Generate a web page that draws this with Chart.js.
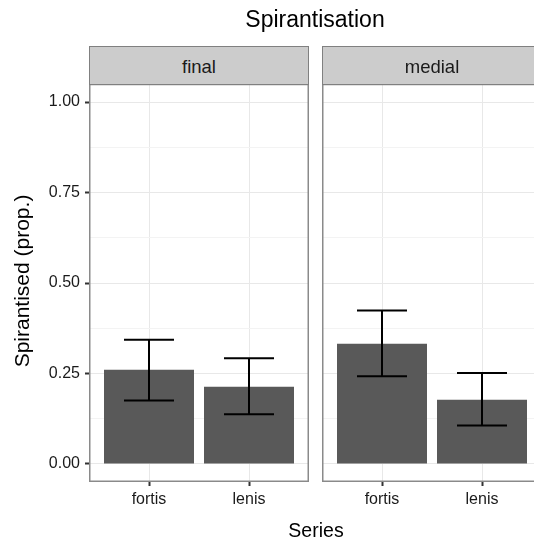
<!DOCTYPE html>
<html>
<head>
<meta charset="utf-8">
<title>Spirantisation</title>
<script src="https://cdn.jsdelivr.net/npm/chart.js@4.4.0/dist/chart.umd.min.js"></script>
<style>
  html, body { margin: 0; padding: 0; background: #fff; width: 534px; height: 544px; overflow: hidden; }
  #wrap { position: relative; width: 560px; height: 544px; font-family: 'Liberation Sans', Arial, Helvetica, sans-serif; color: #000; }
  #wrap canvas { position: absolute; left: 0; top: 0; }
  .strip { position: absolute; top: 46px; width: 220px; height: 39px; box-sizing: border-box;
           background: #CCCCCC; border: 1px solid #808080; text-align: center;
           font-size: 18.5px; line-height: 39px; color: #1a1a1a; overflow: hidden; z-index: 3; }
  .lbl { position: absolute; text-align: center; white-space: nowrap; z-index: 3; }
  #title { left: 115px; width: 400px; top: 8px; font-size: 23px; line-height: 23px; }
  #xlab { left: 116px; width: 400px; top: 521px; font-size: 19.5px; line-height: 19.5px; }
  #ylab { left: -128px; width: 300px; top: 270px; height: 22px; font-size: 21px; line-height: 22px;
          transform: rotate(-90deg); transform-origin: 150px 11px; }
</style>
</head>
<body>
<div id="wrap">
  <canvas id="finalChart" width="560" height="544"></canvas>
  <canvas id="medialChart" width="560" height="544"></canvas>
  <div class="strip" style="left:89px">final</div>
  <div class="strip" style="left:322px">medial</div>
  <div id="title" class="lbl">Spirantisation</div>
  <div id="xlab" class="lbl">Series</div>
  <div id="ylab" class="lbl">Spirantised (prop.)</div>
</div>
<script>
// Categories on the x axis of each facet
const categories = ['fortis', 'lenis'];

// Proportion spirantised, with lower / upper error bounds, per position
const finalProp  = [0.260, 0.213];
const finalLow   = [0.175, 0.137];
const finalHigh  = [0.343, 0.292];

const medialProp = [0.332, 0.177];
const medialLow  = [0.242, 0.106];
const medialHigh = [0.424, 0.251];

// y axis ticks: labelled major ticks and unlabelled minor grid lines
const yMajorTicks = [0, 0.25, 0.5, 0.75, 1.0];
const yMinorTicks = [0.125, 0.375, 0.625, 0.875];

const CANVAS_W = 560;
const PANEL_W = 220;
const FONT = "'Liberation Sans', Arial, Helvetica, sans-serif";

const isMajor = v => yMajorTicks.includes(v);

// Draws the error bars (whisker + caps) through the chart's own scales
function errorBarPlugin(low, high) {
  return {
    id: 'errorBars',
    afterDatasetsDraw(chart) {
      const { ctx, scales: { x, y } } = chart;
      ctx.save();
      ctx.strokeStyle = '#000';
      ctx.lineWidth = 2;
      low.forEach((lo, i) => {
        const xc = x.getPixelForValue(i + 1);
        const half = x.getPixelForValue(i + 1.25) - xc;
        const yLo = y.getPixelForValue(lo);
        const yHi = y.getPixelForValue(high[i]);
        ctx.beginPath();
        ctx.moveTo(xc, yHi); ctx.lineTo(xc, yLo);
        ctx.moveTo(xc - half, yHi); ctx.lineTo(xc + half, yHi);
        ctx.moveTo(xc - half, yLo); ctx.lineTo(xc + half, yLo);
        ctx.stroke();
      });
      ctx.restore();
    }
  };
}

// Grey frame around each facet panel
const panelBorder = {
  id: 'panelBorder',
  afterDraw(chart) {
    const { ctx, chartArea: a } = chart;
    ctx.save();
    ctx.strokeStyle = '#8A8A8A';
    ctx.lineWidth = 1.5;
    ctx.strokeRect(Math.round(a.left) + 0.75, Math.round(a.top) + 0.5,
                   Math.round(a.width) - 1.5, Math.round(a.height) - 1.25);
    ctx.restore();
  }
};

function facet(canvasId, values, low, high, panelLeft, showY) {
  return new Chart(document.getElementById(canvasId), {
    type: 'bar',
    data: {
      datasets: [{
        data: categories.map((c, i) => ({ x: i + 1, y: values[i] })),
        backgroundColor: '#595959',
        borderWidth: 0,
        categoryPercentage: 0.9,
        barPercentage: 1.0
      }]
    },
    options: {
      responsive: false,
      animation: false,
      events: [],
      layout: { padding: { left: showY ? 0 : panelLeft, right: CANVAS_W - panelLeft - PANEL_W, top: 84, bottom: 0 } },
      plugins: { legend: { display: false }, tooltip: { enabled: false }, title: { display: false } },
      scales: {
        x: {
          type: 'linear',
          min: 0.4,
          max: 2.6,
          offset: false,
          afterBuildTicks: s => { s.ticks = categories.map((c, i) => ({ value: i + 1 })); },
          afterFit: s => { s.height = 62; },
          ticks: {
            callback: v => categories[Math.round(v) - 1],
            color: '#1a1a1a',
            font: { family: FONT, size: 16 },
            padding: 4,
            maxRotation: 0,
            autoSkip: false
          },
          grid: { offset: false, color: '#E8E8E8', lineWidth: 1, tickColor: '#333', tickLength: 4, tickWidth: 2 },
          border: { display: false }
        },
        y: {
          type: 'linear',
          min: -0.05,
          max: 1.05,
          afterBuildTicks: s => {
            s.ticks = [...yMajorTicks, ...yMinorTicks].sort((a, b) => a - b).map(v => ({ value: v }));
          },
          afterFit: s => { s.width = showY ? panelLeft : 0; },
          ticks: {
            display: showY,
            callback: v => isMajor(v) ? v.toFixed(2) : '',
            color: '#1a1a1a',
            font: { family: FONT, size: 16 },
            padding: 5,
            autoSkip: false
          },
          grid: {
            color: c => (c.tick && isMajor(c.tick.value)) ? '#E8E8E8' : '#F3F3F3',
            lineWidth: 1,
            drawTicks: showY,
            tickLength: 4,
            tickWidth: 2,
            tickColor: c => (c.tick && isMajor(c.tick.value)) ? '#333' : 'rgba(0,0,0,0)'
          },
          border: { display: false }
        }
      }
    },
    plugins: [errorBarPlugin(low, high), panelBorder]
  });
}

facet('finalChart', finalProp, finalLow, finalHigh, 89, true);
facet('medialChart', medialProp, medialLow, medialHigh, 322, false);
</script>
</body>
</html>
